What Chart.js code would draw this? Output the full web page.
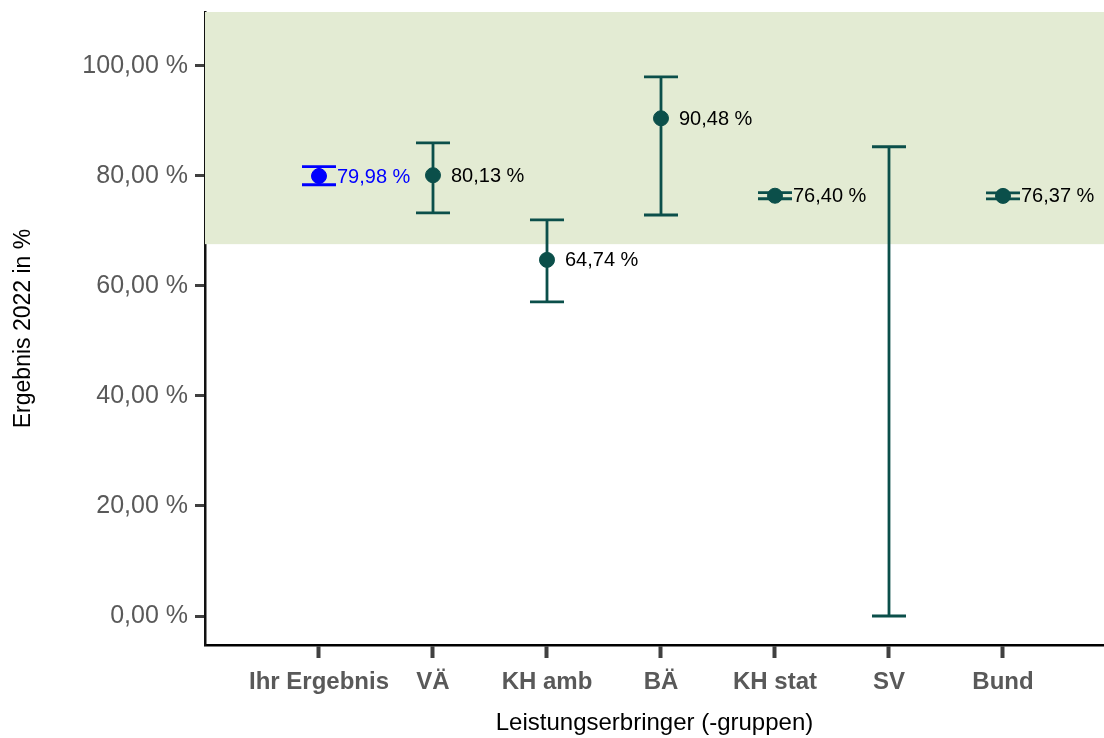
<!DOCTYPE html>
<html>
<head>
<meta charset="utf-8">
<script src="https://cdn.jsdelivr.net/npm/chart.js@4"></script>
<style>
  html, body { margin: 0; padding: 0; background: #fff; }
  #wrap { width: 1104px; height: 738px; }
</style>
</head>
<body>
<div id="wrap"><canvas id="resultChart" width="1104" height="738"></canvas></div>
<script>
// Ergebnisse je Leistungserbringer(-gruppe) mit Vertrauensbereich
const categories = ['Ihr Ergebnis', 'VÄ', 'KH amb', 'BÄ', 'KH stat', 'SV', 'Bund'];
const results = [79.98, 80.13, 64.74, 90.48, 76.40, null, 76.37];
const lower = [78.4, 73.3, 57.1, 72.9, 75.85, 0.0, 75.82];
const upper = [81.7, 86.0, 72.0, 98.0, 76.95, 85.3, 76.92];
const yTicks = [0, 20, 40, 60, 80, 100];
const referenceFrom = 67.6;

const GREEN = '#0b4f4a';
const BLUE = '#0000ff';
const FONT = '"Liberation Sans", Arial, sans-serif';

const fmt = v => v.toFixed(2).replace('.', ',') + ' %';
const colorOf = i => (i === 0 ? BLUE : GREEN);

// green reference band + error bars behind the points, value labels on top
const errorBars = {
    id: 'errorBars',
    beforeDatasetsDraw(chart) {
        const { ctx, chartArea, scales: { x, y } } = chart;
        ctx.save();
        ctx.fillStyle = '#e3ebd3';
        const yb = y.getPixelForValue(referenceFrom);
        ctx.fillRect(chartArea.left, chartArea.top, chartArea.right - chartArea.left, yb - chartArea.top);

        ctx.lineWidth = 2.8;
        categories.forEach((c, i) => {
            const px = x.getPixelForValue(i + 1);
            const y1 = y.getPixelForValue(lower[i]);
            const y2 = y.getPixelForValue(upper[i]);
            ctx.strokeStyle = colorOf(i);
            ctx.beginPath();
            ctx.moveTo(px, y1); ctx.lineTo(px, y2);
            ctx.moveTo(px - 17, y1); ctx.lineTo(px + 17, y1);
            ctx.moveTo(px - 17, y2); ctx.lineTo(px + 17, y2);
            ctx.stroke();
        });
        ctx.restore();
    },
    afterDatasetsDraw(chart) {
        const { ctx, scales: { x, y } } = chart;
        ctx.save();
        ctx.font = '20px ' + FONT;
        ctx.textAlign = 'left';
        ctx.textBaseline = 'middle';
        results.forEach((v, i) => {
            if (v === null) return;
            ctx.fillStyle = i === 0 ? BLUE : '#000';
            ctx.fillText(fmt(v), x.getPixelForValue(i + 1) + 18, y.getPixelForValue(v) + 1);
        });
        ctx.restore();
    }
};

const points = results.map((v, i) => ({ x: i + 1, y: v }));

new Chart(document.getElementById('resultChart'), {
    type: 'scatter',
    data: {
        datasets: [{
            data: points.slice(0, 1),
            backgroundColor: BLUE,
            borderColor: BLUE,
            pointRadius: 7.5
        }, {
            data: points.slice(1).filter(p => p.y !== null),
            backgroundColor: GREEN,
            borderColor: GREEN,
            pointRadius: 7.5
        }]
    },
    options: {
        responsive: false,
        animation: false,
        layout: { autoPadding: false, padding: { top: 12, right: 0, left: 0, bottom: 0 } },
        plugins: {
            legend: { display: false },
            tooltip: { enabled: false }
        },
        scales: {
            x: {
                type: 'linear',
                min: 0,
                max: 7.886,
                afterBuildTicks: scale => {
                    scale.ticks = categories.map((c, i) => ({ value: i + 1 }));
                },
                afterFit: scale => {
                    scale.height = 93;
                    scale.paddingLeft = 0;
                    scale.paddingRight = 0;
                },
                ticks: {
                    callback: v => categories[v - 1],
                    color: '#595959',
                    font: { family: FONT, size: 24, weight: 'bold' },
                    padding: 10,
                    maxRotation: 0,
                    autoSkip: false
                },
                grid: {
                    drawOnChartArea: false,
                    tickLength: 13,
                    tickWidth: 4,
                    tickColor: '#404040'
                },
                border: { color: '#000', width: 2.5 },
                title: {
                    display: true,
                    text: 'Leistungserbringer (-gruppen)',
                    color: '#000',
                    font: { family: FONT, size: 24 },
                    padding: { top: 4, bottom: 0 }
                }
            },
            y: {
                min: -5.27,
                max: 109.8,
                afterBuildTicks: scale => {
                    scale.ticks = yTicks.map(v => ({ value: v }));
                },
                afterFit: scale => {
                    scale.width = 205;
                    scale.paddingTop = 0;
                    scale.paddingBottom = 0;
                },
                ticks: {
                    callback: v => fmt(v),
                    color: '#595959',
                    font: { family: FONT, size: 25 },
                    padding: 7
                },
                grid: {
                    drawOnChartArea: false,
                    tickLength: 10,
                    tickWidth: 3,
                    tickColor: '#404040'
                },
                border: { color: '#111', width: 2.5 },
                title: {
                    display: true,
                    text: 'Ergebnis 2022 in %',
                    color: '#000',
                    font: { family: FONT, size: 23 },
                    padding: { top: 10, bottom: 4 }
                }
            }
        }
    },
    plugins: [errorBars]
});
</script>
</body>
</html>
